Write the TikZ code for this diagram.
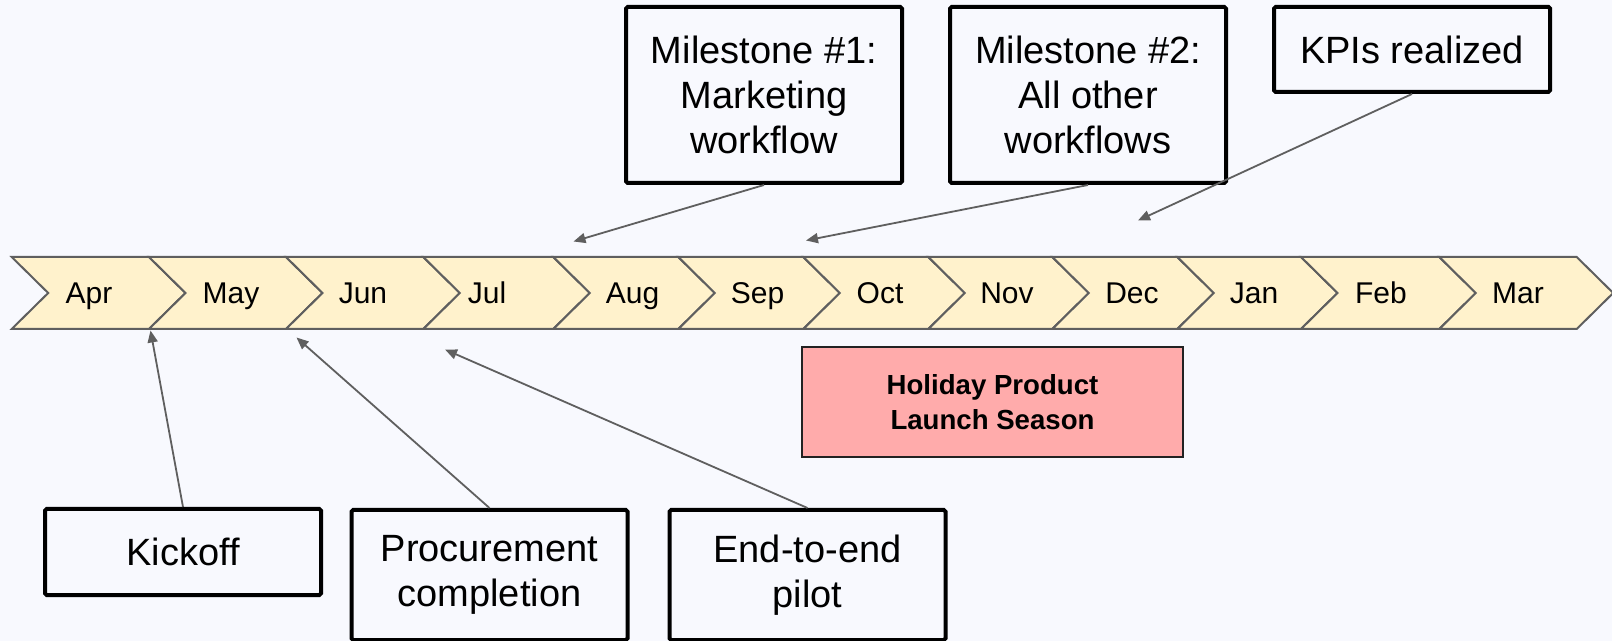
\documentclass[tikz,border=0pt]{standalone}
\usepackage{fontspec}
\setmainfont{Liberation Sans}
\usetikzlibrary{arrows.meta}
\definecolor{bg}{RGB}{248,249,254}
\definecolor{chevfill}{RGB}{255,242,204}
\definecolor{chevline}{RGB}{95,95,95}
\definecolor{holfill}{RGB}{255,171,171}
\definecolor{holline}{RGB}{34,34,34}
\definecolor{arrowgray}{RGB}{95,95,95}
\begin{document}
\begin{tikzpicture}[x=0.5pt,y=-0.5pt,
  chev/.style={fill=chevfill,draw=chevline,line width=1pt,line join=miter},
  month/.style={anchor=base,font=\fontsize{15pt}{18pt}\selectfont,inner sep=0pt},
  evbox/.style={draw=black,line width=2pt,fill=bg,align=center,minimum width=138pt,
    font=\fontsize{19pt}{22.5pt}\selectfont,inner sep=0pt,rounded corners=0.8pt},
  holbox/.style={draw=holline,line width=0.8pt,fill=holfill,align=center,
    minimum width=190.5pt,minimum height=55pt,inner sep=0pt,
    font=\bfseries\fontsize{13.8pt}{17.5pt}\selectfont},
  conn/.style={draw=arrowgray,line width=0.9pt,-{Triangle[length=6pt,width=5pt]}}]
\path[fill=bg] (0,0) rectangle (1612,641);
\useasboundingbox (0,0) rectangle (1612,641);
% chevrons
\foreach \s/\e/\lx/\m in {11.7/149/89/Apr, 149/286/231/May, 286/423.3/363/Jun,
  423.3/553.3/487/Jul, 553.3/678.3/632.5/Aug, 678.3/803.3/757.5/Sep,
  803.3/928.3/880/Oct, 928.3/1052.3/1007/Nov, 1052.3/1177.3/1132/Dec,
  1177.3/1301/1254/Jan, 1301/1439.3/1381/Feb, 1439.3/1576.7/1518/Mar} {
  \draw[chev] (\s,257) -- (\e,257) -- (\e+36.5,293) -- (\e,329) -- (\s,329) -- (\s+36.5,293) -- cycle;
  \node[month] (mon-\m) at (\lx,303.5) {\m};
}
% target points on the timeline
\coordinate (tAug) at (573.5,241.5);
\coordinate (tSep) at (806,240.5);
\coordinate (tDec) at (1138,220.5);
\coordinate (tMay) at (150.5,330.5);
\coordinate (tJun) at (296.5,337.5);
\coordinate (tJul) at (445,349.5);
% boxes
\node[evbox,minimum height=88pt] (ms1) at (764,95) {Milestone \#1:\\Marketing\\workflow};
\node[evbox,minimum height=88pt] (ms2) at (1088,95) {Milestone \#2:\\All other\\workflows};
\node[evbox,minimum height=42.5pt] (kpi) at (1412,49.5) {KPIs realized};
\node[evbox,minimum height=43pt] (kick) at (183,552) {Kickoff};
\node[evbox,minimum height=65pt] (proc) at (489.5,575) {Procurement\\completion};
\node[evbox,minimum height=65pt] (pilot) at (807.5,575) {End-to-end\\pilot};
\node[holbox] (holiday) at (992.5,402) {Holiday Product\\Launch Season};
% connectors
\draw[conn] (ms1.south) -- (tAug);
\draw[conn] (ms2.south) -- (tSep);
\draw[conn] (kpi.south) -- (tDec);
\draw[conn] (kick.north) -- (tMay);
\draw[conn] (proc.north) -- (tJun);
\draw[conn] (pilot.north) -- (tJul);
\end{tikzpicture}
\end{document}
